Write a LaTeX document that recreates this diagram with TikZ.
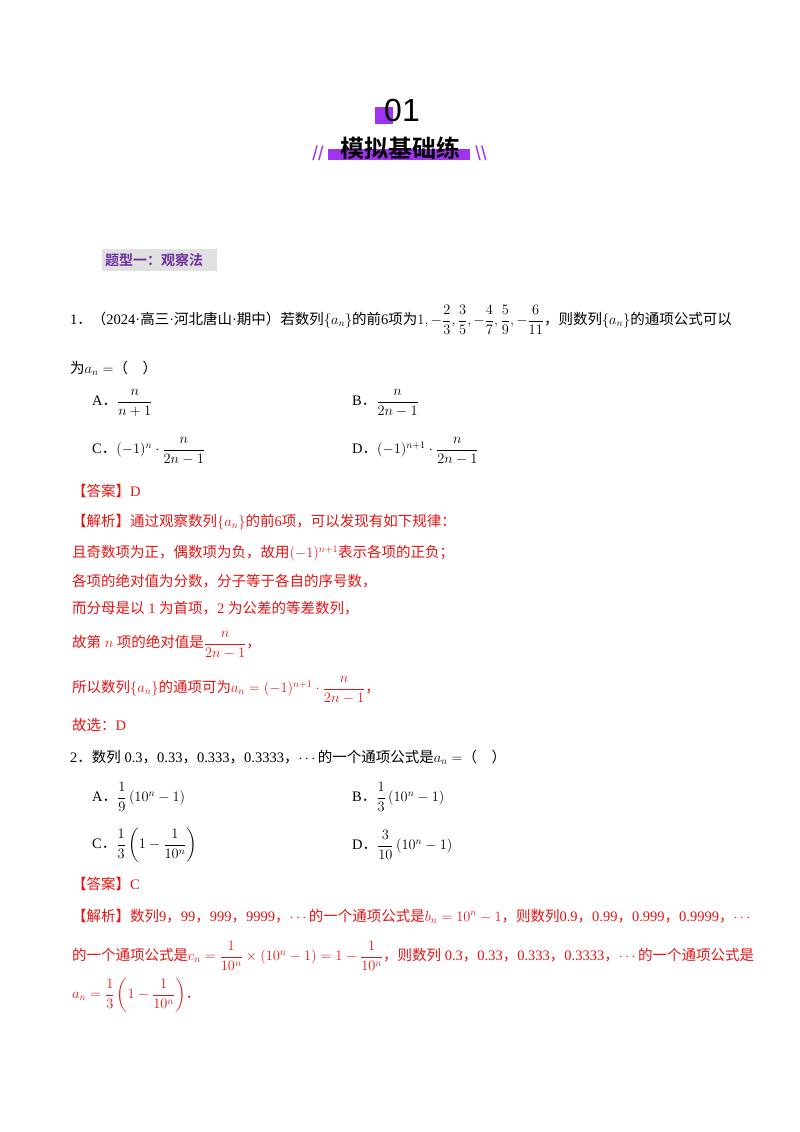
\documentclass[tikz,border=0pt]{standalone}
\usepackage{amsmath}
\usepackage{fontspec}
\setmainfont{Liberation Serif}
\newfontfamily\hsans{Liberation Sans}
\newfontfamily\cjk{Noto Sans CJK SC}
\newfontfamily\cjkb{Noto Sans CJK SC Bold}
\definecolor{pur}{RGB}{160,50,240}
\definecolor{tpur}{RGB}{112,48,160}
\definecolor{ans}{RGB}{230,20,20}
\begin{document}
\begin{tikzpicture}[x=1pt,y=-1pt,
  t/.style={anchor=west,inner sep=0pt,font=\fontsize{14.5}{17}\selectfont},
  r/.style={t,text=ans}]
\useasboundingbox (0,0) rectangle (800,1132);
\fill[white] (0,0) rectangle (800,1132);
% header
\fill[pur] (375,107) rectangle (393,124);
\node[inner sep=0pt,font=\fontsize{32}{34}\selectfont\hsans] (h1) at (402,110) {01};
\fill[pur] (328,149) rectangle (470,160);
\node[inner sep=0pt,font=\fontsize{24}{26}\selectfont\cjkb] (h2) at (400,148) {模拟基础练};
\node[inner sep=0pt,text=pur,font=\fontsize{20}{20}\selectfont\hsans] (sl) at (318,153) {//};
\node[inner sep=0pt,text=pur,font=\fontsize{20}{20}\selectfont\hsans] (sr) at (481,153) {\textbackslash\textbackslash};
% type
\fill[black!12] (102,249) rectangle (217,271);
\node[t,text=tpur,font=\fontsize{14}{16}\selectfont\cjkb] (ty) at (105,260) {题型一：观察法};
% Q1
\node[t] (q1) at (70,320) {1{\cjk ．（}2024·{\cjk 高三}·{\cjk 河北唐山}·{\cjk 期中）若数列}$\{a_n\}${\cjk 的前}6{\cjk 项为}$1,-\dfrac{2}{3},\dfrac{3}{5},-\dfrac{4}{7},\dfrac{5}{9},-\dfrac{6}{11}${\cjk ，则数列}$\{a_n\}${\cjk 的通项公式可以}};
\node[t] (q1b) at (70,368) {{\cjk 为}$a_n=${\cjk （\quad ）}};
\node[t] (oa) at (92,403) {A{\cjk ．}$\dfrac{n}{n+1}$};
\node[t] (ob) at (352,403) {B{\cjk ．}$\dfrac{n}{2n-1}$};
\node[t] (oc) at (92,451) {C{\cjk ．}$(-1)^n\cdot\dfrac{n}{2n-1}$};
\node[t] (od) at (352,451) {D{\cjk ．}$(-1)^{n+1}\cdot\dfrac{n}{2n-1}$};
\node[r] (a1) at (72,491) {{\cjk 【答案】}D};
\node[r] (j1) at (72,522) {{\cjk 【解析】通过观察数列}$\{a_n\}${\cjk 的前}6{\cjk 项，可以发现有如下规律：}};
\node[r] (j2) at (72,553) {{\cjk 且奇数项为正，偶数项为负，故用}$(-1)^{n+1}${\cjk 表示各项的正负；}};
\node[r] (j3) at (72,581) {{\cjk 各项的绝对值为分数，分子等于各自的序号数，}};
\node[r] (j4) at (72,608) {{\cjk 而分母是以} 1 {\cjk 为首项，}2 {\cjk 为公差的等差数列，}};
\node[r] (j5) at (72,645) {{\cjk 故第} $n$ {\cjk 项的绝对值是}$\dfrac{n}{2n-1}${\cjk ，}};
\node[r] (j6) at (72,690) {{\cjk 所以数列}$\{a_n\}${\cjk 的通项可为}$a_n=(-1)^{n+1}\cdot\dfrac{n}{2n-1}${\cjk ，}};
\node[r] (j7) at (72,725) {{\cjk 故选：}D};
% Q2
\node[t] (q2) at (70,757) {2{\cjk ．数列} 0.3{\cjk ，}0.33{\cjk ，}0.333{\cjk ，}0.3333{\cjk ，}$\cdots${\cjk 的一个通项公式是}$a_n=${\cjk （\quad ）}};
\node[t] (pa) at (92,797) {A{\cjk ．}$\dfrac{1}{9}\left(10^n-1\right)$};
\node[t] (pb) at (352,797) {B{\cjk ．}$\dfrac{1}{3}\left(10^n-1\right)$};
\node[t] (pc) at (92,845) {C{\cjk ．}$\dfrac{1}{3}\left(1-\dfrac{1}{10^n}\right)$};
\node[t] (pd) at (352,845) {D{\cjk ．}$\dfrac{3}{10}\left(10^n-1\right)$};
\node[r] (a2) at (72,884) {{\cjk 【答案】}C};
\node[r] (k1) at (72,916) {{\cjk 【解析】数列}9{\cjk ，}99{\cjk ，}999{\cjk ，}9999{\cjk ，}$\cdots${\cjk 的一个通项公式是}$b_n=10^n-1${\cjk ，则数列}0.9{\cjk ，}0.99{\cjk ，}0.999{\cjk ，}0.9999{\cjk ，}$\cdots$};
\node[r] (k2) at (72,956) {{\cjk 的一个通项公式是}$c_n=\dfrac{1}{10^n}\times\left(10^n-1\right)=1-\dfrac{1}{10^n}${\cjk ，则数列} 0.3{\cjk ，}0.33{\cjk ，}0.333{\cjk ，}0.3333{\cjk ，}$\cdots${\cjk 的一个通项公式是}};
\node[r] (k3) at (72,995) {$a_n=\dfrac{1}{3}\left(1-\dfrac{1}{10^n}\right)${\cjk ．}};
\end{tikzpicture}
\end{document}
